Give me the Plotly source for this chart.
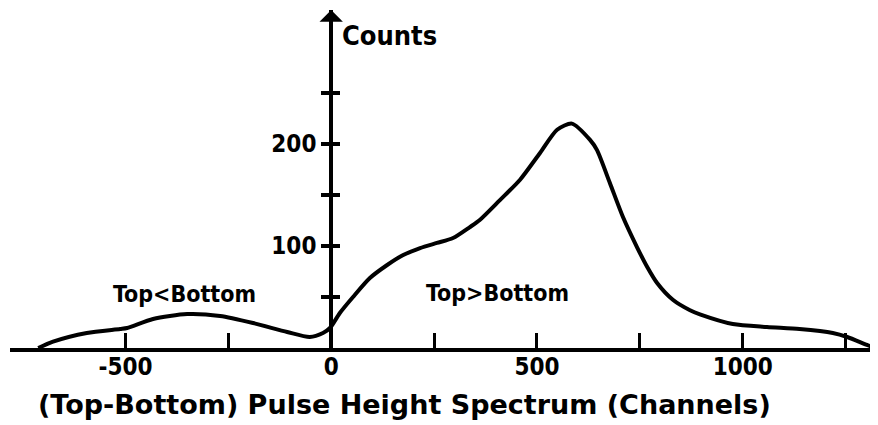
import plotly.graph_objects as go

# ---- data ----
channels = [-712, -676, -594, -513, -496, -433, -350, -270, -190, -107, -52, -20, -3,
            21, 53, 94, 136, 175, 216, 257, 296, 337, 361, 410, 459, 507, 549, 585,
            629, 646, 677, 709, 743, 768, 792, 831, 872, 896, 976, 1059, 1138,
            1219, 1254, 1302, 1322]
counts = [0, 6.2, 14.7, 18.6, 19.6, 28.4, 33.3, 31.4, 24.5, 15.7, 10.8, 14.7, 19.6,
          34.3, 50, 68.6, 81.4, 91.2, 98, 103, 107.8, 118.6, 125.5, 145, 165, 191, 214, 220,
          204, 194, 162, 128.4, 99, 79.4, 63.7, 47, 37, 33, 23.5, 20.6, 18.6,
          14.7, 10.8, 3, 0]

x_tickvals = [-500, -250, 0, 250, 500, 750, 1000, 1250]
x_ticktext = ["-500", "", "0", "", "500", "", "1000", ""]
y_tickvals = [50, 100, 150, 200, 250]
y_ticktext = ["", "100", "", "200", ""]

x_range = [-780.6, 1328.8]
y_range = [0, 331.4]

FONT = "DejaVu Sans Condensed, DejaVu Sans, sans-serif"
FONT_WIDE = "DejaVu Sans, sans-serif"
INK = "black"

fig = go.Figure()
fig.add_trace(go.Scatter(
    x=channels, y=counts, mode="lines",
    line=dict(color=INK, width=4, shape="spline", smoothing=0.7),
    hoverinfo="skip", showlegend=False, cliponaxis=False,
))

yaxis_pos = (0 - x_range[0]) / (x_range[1] - x_range[0])

# page body keeps its default 8px margin, so the figure is sized to the visible area
fig.update_layout(
    width=870, height=417,
    margin=dict(l=2, r=0, t=2, b=77, autoexpand=False),
    paper_bgcolor="white", plot_bgcolor="white",
    showlegend=False,
    xaxis=dict(
        range=x_range, showgrid=False, zeroline=False, automargin=False,
        showline=True, linecolor=INK, linewidth=4,
        tickmode="array", tickvals=x_tickvals, ticktext=x_ticktext,
        ticks="inside", ticklen=15, tickwidth=3, tickcolor=INK,
        tickfont=dict(family=FONT, size=24, color=INK, weight="bold"),
        ticklabelstandoff=-6,
    ),
    yaxis=dict(
        range=y_range, showgrid=False, zeroline=False, automargin=False,
        anchor="free", position=yaxis_pos,
        showline=True, linecolor=INK, linewidth=4,
        tickmode="array", tickvals=y_tickvals, ticktext=y_ticktext,
        ticks="outside", ticklen=8, tickwidth=4, tickcolor=INK,
        tickfont=dict(family=FONT, size=24, color=INK, weight="bold"),
    ),
    yaxis2=dict(
        overlaying="y", matches="y", range=y_range, automargin=False,
        anchor="free", position=yaxis_pos, side="right",
        showgrid=False, zeroline=False, showline=False,
        tickmode="array", tickvals=y_tickvals, showticklabels=False,
        ticks="outside", ticklen=8, tickwidth=4, tickcolor=INK,
    ),
)

# invisible trace to activate yaxis2
fig.add_trace(go.Scatter(x=[0], y=[0], yaxis="y2", mode="markers",
                         marker=dict(opacity=0), hoverinfo="skip", showlegend=False))

# arrow head on the Counts axis
fig.add_annotation(x=0, y=y_range[1], ax=0, ay=y_range[1] - 25, axref="x", ayref="y",
                   xref="x", yref="y", text="", showarrow=True,
                   arrowhead=1, arrowsize=1.3, arrowwidth=3, arrowcolor=INK)

fig.add_annotation(x=21, y=306, xref="x", yref="y", text="Counts", showarrow=False,
                   xanchor="left", yanchor="middle",
                   font=dict(family=FONT, size=27, color=INK, weight="bold"))
fig.add_annotation(x=-356.5, y=53.4, xref="x", yref="y", text="Top&lt;Bottom", showarrow=False,
                   font=dict(family=FONT, size=23, color=INK, weight="bold"))
fig.add_annotation(x=405, y=54, xref="x", yref="y", text="Top&gt;Bottom", showarrow=False,
                   font=dict(family=FONT, size=23, color=INK, weight="bold"))
fig.add_annotation(x=179, y=-0.166, xref="x", yref="paper", yanchor="middle",
                   text="(Top-Bottom) Pulse Height Spectrum (Channels)", showarrow=False,
                   font=dict(family=FONT_WIDE, size=27, color=INK, weight="bold"))

fig.write_html("out.html")
